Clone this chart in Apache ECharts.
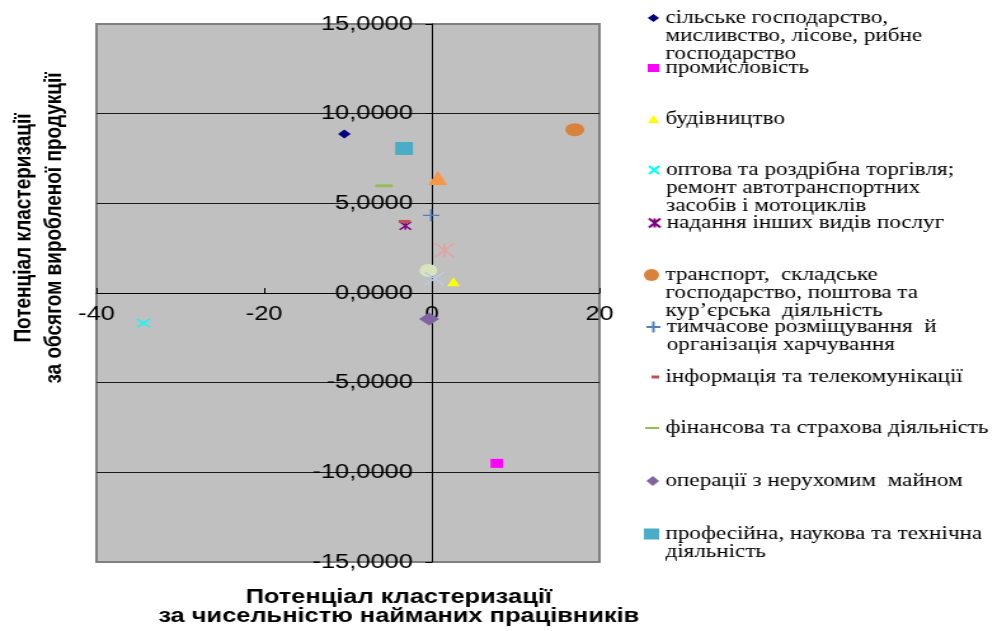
<!DOCTYPE html>
<html><head><meta charset="utf-8">
<script src="https://cdn.jsdelivr.net/npm/echarts@6/dist/echarts.min.js"></script>
<style>
html,body{margin:0;padding:0;background:#fff;overflow:hidden;width:992px;height:631px}
#c{width:781px;height:631px;transform:scaleX(1.27);transform-origin:0 0}
</style>
</head><body><div id="c"></div>
<script>
// ---- data ----
const sectors = [
  'сільське господарство,\nмисливство, лісове, рибне\nгосподарство',
  'промисловість',
  'будівництво',
  'оптова та роздрібна торгівля;\nремонт автотранспортних\nзасобів і мотоциклів',
  'надання інших видів послуг',
  'транспорт,  складське\nгосподарство, поштова та\nкур’єрська  діяльність',
  'тимчасове розміщування  й\nорганізація харчування',
  'інформація та телекомунікації',
  'фінансова та страхова діяльність',
  'операції з нерухомим  майном',
  'професійна, наукова та технічна\nдіяльність'
];
// potential by number of employees (x) and by output volume (y)
const xEmployees = [-10.44, 7.76, 2.58, -34.4, -3.15, 17.06, -0.08, -3.27, -5.70, -0.32, -3.31];
const yOutput    = [8.87, -9.50, 0.63, -1.67, 3.75, 9.11, 4.33, 3.99, 5.98, -1.45, 8.06];
// additional points shown in the plot (their legend entries are cut off)
const extraX = [0.72, 1.51, -0.41, 0.31];
const extraY = [6.41, 2.38, 1.26, 0.80];
const xTickStep = 20, yTickStep = 5;
const xRange = [-40, 20], yRange = [-15, 15];
const xTitle = 'Потенціал кластеризації\nза чисельністю найманих працівників';
const yTitle = 'Потенціал кластеризації\nза обсягом виробленої продукції';

// ---- styles ----
const P_X = 'path://M0,0L10,10M10,0L0,10';
const P_PLUS = 'path://M5,0L5,10M0,5L10,5';
const P_STAR = 'path://M0,0L10,10M10,0L0,10M5,0L5,10';
const markers = [
  {symbol:'diamond', size:[10,9], color:'#000080', leg:[9,8]},
  {symbol:'rect', size:[10,9], color:'#FF00FF', leg:[9,8]},
  {symbol:'triangle', size:[10,9], color:'#FFFF00', leg:[9,8]},
  {symbol:P_X, size:[10,8], color:'#00FFFF', stroke:1.4, leg:[9,8]},
  {symbol:P_STAR, size:[9,8], color:'#800080', stroke:1.4, leg:[9,9]},
  {symbol:'circle', size:[15,13], color:'#D9823B', leg:[12,12]},
  {symbol:P_PLUS, size:[13,12], color:'#4F81BD', stroke:1.5, leg:[11,11]},
  {symbol:'rect', size:[9,3], color:'#C0504D', leg:[6,3]},
  {symbol:'rect', size:[14,3], color:'#9BBB59', leg:[11,2]},
  {symbol:'diamond', size:[16,13], color:'#8064A2', leg:[10,10]},
  {symbol:'rect', size:[14,13], color:'#4BACC6', leg:[12,11]}
];
const extraMarkers = [
  {symbol:'triangle', size:[15,14], color:'#F79646'},
  {symbol:P_STAR, size:[15,14], color:'#E6A3A2', stroke:1.6},
  {symbol:'circle', size:[14,13], color:'#D7E4BD'},
  {symbol:P_X, size:[15,13], color:'#B9CDE5', stroke:1.6}
];
const legendFirstLineY = [18, 68, 119, 170, 223, 275, 327, 377, 428, 481, 534];
const LH = 18;
const legendTextX = 524;
const GRID = {left:76, right:309, top:24, bottom:69};

function mkSeries(name, x, y, m) {
  const st = m.stroke ? {color:m.color, borderColor:m.color, borderWidth:m.stroke} : {color:m.color};
  return {
    type:'scatter', name:name, symbol:m.symbol, symbolSize:m.size,
    itemStyle:Object.assign({opacity:1}, st),
    emphasis:{disabled:true},
    data:[[x, y]], animation:false, z:3
  };
}

const series = sectors.map((n, i) => mkSeries(n, xEmployees[i], yOutput[i], markers[i]));
extraX.forEach((x, i) => series.push(mkSeries('extra' + (i + 1), x, extraY[i], extraMarkers[i])));

const legends = sectors.map((n, i) => {
  const lines = n.split('\n').length;
  const blockH = (2 * lines - 1) * LH;
  const iw = markers[i].leg[0];
  return {
    show:true, orient:'vertical', left:legendTextX - 5 - iw, top:legendFirstLineY[i] - blockH / 2,
    padding:0, itemGap:0, selectedMode:false,
    itemWidth:iw, itemHeight:markers[i].leg[1],
    data:[n],
    formatter:name => '\n'.repeat(lines - 1) + name,
    textStyle:{fontFamily:'Liberation Serif', fontSize:18.2, lineHeight:LH, color:'#000'}
  };
});

const splitColors = [];
for (let v = yRange[0]; v <= yRange[1]; v += yTickStep) {
  splitColors.push(v === yRange[0] || v === yRange[1] ? '#808080' : '#1a1a1a');
}

const chart = echarts.init(document.getElementById('c'), null, {renderer:'canvas', width:781, height:631});
const option = {
  backgroundColor:'#ffffff',
  animation:false,
  grid:Object.assign({show:true, backgroundColor:'#C0C0C0', borderColor:'#808080', borderWidth:2,
    containLabel:false, outerBoundsMode:'none'}, GRID),
  xAxis:{
    type:'value', min:xRange[0], max:xRange[1], interval:xTickStep, position:'bottom', offset:0,
    axisLine:{show:true, onZero:false, lineStyle:{color:'#000', width:1}},
    axisTick:{show:true, inside:true, length:5, lineStyle:{color:'#000', width:1}},
    axisLabel:{fontFamily:'Liberation Sans', fontSize:20, color:'#000', margin:11, showMinLabel:true, showMaxLabel:true},
    splitLine:{show:false}, z:2
  },
  yAxis:{
    type:'value', min:yRange[0], max:yRange[1], interval:yTickStep, position:'left', offset:0,
    axisLine:{show:true, onZero:false, lineStyle:{color:'#000', width:1}},
    axisTick:{show:true, inside:false, length:5, lineStyle:{color:'#000', width:1}},
    axisLabel:{fontFamily:'Liberation Sans', fontSize:20, color:'#000', margin:15,
      formatter:v => v.toFixed(4).replace('.', ',')},
    splitLine:{show:true, lineStyle:{color:splitColors, width:1}}, z:2
  },
  legend:legends,
  graphic:[
    {type:'text', x:314, y:607, z:10,
     style:{text:xTitle, font:'bold 20px "Liberation Sans"', align:'center', verticalAlign:'middle', lineHeight:19, fill:'#000'}},
    {type:'text', x:31, y:228, rotation:Math.PI / 2, z:10,
     style:{text:yTitle, font:'bold 19px "Liberation Sans"', align:'center', verticalAlign:'middle', lineHeight:24, fill:'#000'}}
  ],
  series:series
};
chart.setOption(option);
// move both axes (line, ticks and labels) so they cross at the origin, as in the reference
const origin = chart.convertToPixel({gridIndex:0}, [0, 0]);
const gridBottomY = 631 - GRID.bottom;
chart.setOption({
  xAxis:{offset:-(gridBottomY - origin[1])},
  yAxis:{offset:-(origin[0] - GRID.left)}
});
</script></body></html>
